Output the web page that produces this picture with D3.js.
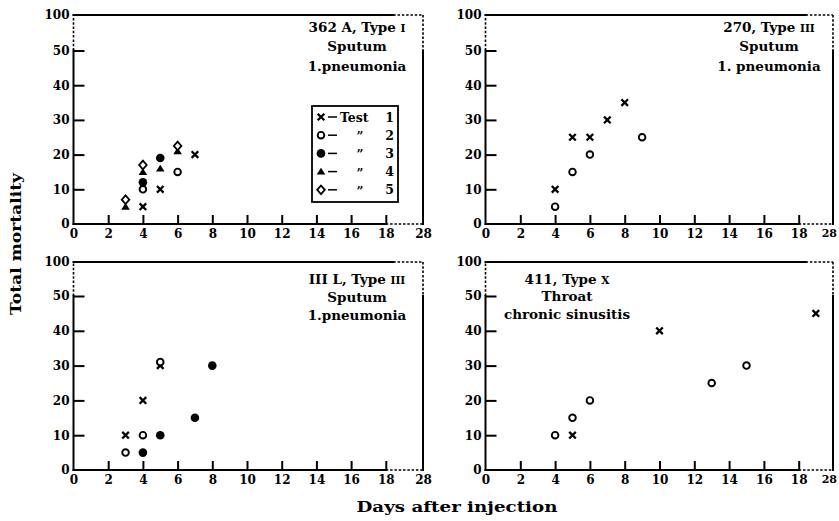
<!DOCTYPE html>
<html><head><meta charset="utf-8">
<script src="https://cdn.jsdelivr.net/npm/d3@7"></script>
<style>
body{margin:0;background:#fff;}
svg text{font-family:"DejaVu Serif",serif;font-weight:bold;fill:#000;}
</style></head>
<body><svg id="c" width="839" height="521"></svg>
<script>
// ---- data ----
const yTicks = [0,10,20,30,40,50,100];
const xTicks = [0,2,4,6,8,10,12,14,16,18,28];
const testNames = ["Test 1","2","3","4","5"];
const markers = ["cross","circle","dot","triangle","diamond"];

// Panel A: 362 A, Type I
const a_test1 = [[4,5],[5,10],[7,20]];
const a_test2 = [[4,10],[6,15]];
const a_test3 = [[4,12],[5,19]];
const a_test4 = [[3,5],[4,15],[5,16],[6,21]];
const a_test5 = [[3,7],[4,17],[6,22.5]];
// Panel B: 270, Type III
const b_test1 = [[4,10],[5,25],[6,25],[7,30],[8,35]];
const b_test2 = [[4,5],[5,15],[6,20],[9,25]];
// Panel C: III L, Type III
const c_test1 = [[3,10],[4,20],[5,30]];
const c_test2 = [[3,5],[4,10],[5,31]];
const c_test3 = [[4,5],[5,10],[7,15],[8,30]];
// Panel D: 411, Type X
const d_test1 = [[5,10],[10,40],[23,45]];
const d_test2 = [[4,10],[5,15],[6,20],[13,25],[15,30]];

const panelA_title = ["362 A, Type I","Sputum","1.pneumonia"];
const panelB_title = ["270,   Type III","Sputum","1. pneumonia"];
const panelC_title = ["III L,  Type III","Sputum","1.pneumonia"];
const panelD_title = ["411, Type X","Throat","chronic sinusitis"];

const svg = d3.select("#c");

const panels = [
  {x0:73.5,k:17.35,right:423,yb:224,yt:15,k10:34.7,series:[a_test1,a_test2,a_test3,a_test4,a_test5],
   title:panelA_title,tx:357,ty:[32,51,71],legend:true},
  {x0:485.5,k:17.4,right:833,yb:224,yt:15,k10:34.7,series:[b_test1,b_test2],
   title:panelB_title,tx:769,ty:[32,51,71],edge:true},
  {x0:73.5,k:17.35,right:423,yb:470,yt:262,k10:34.8,series:[c_test1,c_test2,c_test3],
   title:panelC_title,tx:357,ty:[284,302,320]},
  {x0:485.5,k:17.4,right:833,yb:470,yt:262,k10:34.8,series:[d_test1,d_test2],
   title:panelD_title,tx:567,ty:[284,301,319],edge:true}
];

function drawMarker(g, type, cx, cy){
  if(type==="cross"){
    const s=3.3;
    g.append("path").attr("d",`M${cx-s},${cy-s}L${cx+s},${cy+s}M${cx-s},${cy+s}L${cx+s},${cy-s}`)
     .attr("stroke","#000").attr("stroke-width",2.3).attr("fill","none");
  } else if(type==="circle"){
    g.append("circle").attr("cx",cx).attr("cy",cy).attr("r",3.3)
     .attr("stroke","#000").attr("stroke-width",1.9).attr("fill","#fff");
  } else if(type==="dot"){
    g.append("circle").attr("cx",cx).attr("cy",cy).attr("r",4.3).attr("fill","#000");
  } else if(type==="triangle"){
    g.append("path").attr("d",`M${cx},${cy-3.8}L${cx+4.3},${cy+3}L${cx-4.3},${cy+3}Z`).attr("fill","#000");
  } else if(type==="diamond"){
    g.append("path").attr("d",`M${cx},${cy-4.3}L${cx+3.8},${cy}L${cx},${cy+4.3}L${cx-3.8},${cy}Z`)
     .attr("stroke","#000").attr("stroke-width",1.8).attr("fill","#fff");
  }
}

panels.forEach(p=>{
  const x = d3.scaleLinear().domain([0,18,28]).range([p.x0,p.x0+18*p.k,p.right]);
  const y = d3.scaleLinear().domain([0,50,100]).range([p.yb,p.yb-5*p.k10,p.yt]);
  const g = svg.append("g");

  // axes
  const ya = g.append("g").attr("transform",`translate(${p.x0},0)`)
    .call(d3.axisLeft(y).tickValues(yTicks).tickSizeInner(-11).tickSizeOuter(0).tickPadding(4).tickFormat(d3.format("d")));
  ya.select(".domain").remove();
  ya.selectAll(".tick line").attr("stroke","#000").attr("stroke-width",2)
    .filter(d=>d===0||d===100).remove();
  ya.selectAll(".tick text").attr("font-size",12).attr("font-family","DejaVu Serif").attr("font-weight","bold");

  const xa = g.append("g").attr("transform",`translate(0,${p.yb})`)
    .call(d3.axisBottom(x).tickValues(xTicks).tickSizeInner(-9).tickSizeOuter(0).tickPadding(5).tickFormat(d3.format("d")));
  xa.select(".domain").remove();
  xa.selectAll(".tick line").attr("stroke","#000").attr("stroke-width",2)
    .filter(d=>d===0||d===28).remove();
  xa.selectAll(".tick text").attr("font-size",12).attr("font-family","DejaVu Serif").attr("font-weight","bold");
  if(p.edge){
    xa.selectAll(".tick text").filter(d=>d===28).attr("text-anchor","end").attr("x",3.5)
      .attr("font-size",11);
  }

  // frame
  const solid = (x1,y1,x2,y2)=>g.append("line").attr("x1",x1).attr("y1",y1).attr("x2",x2).attr("y2",y2)
      .attr("stroke","#000").attr("stroke-width",2).attr("stroke-linecap","square");
  const dash = (x1,y1,x2,y2)=>g.append("line").attr("x1",x1).attr("y1",y1).attr("x2",x2).attr("y2",y2)
      .attr("stroke","#000").attr("stroke-width",1.6).attr("stroke-dasharray","2.5,1.8");
  solid(x(0),y(0),x(0),y(50)); dash(x(0),y(50),x(0),y(100));
  solid(x(0),y(100),x(20),y(100)); dash(x(20),y(100),x(28),y(100));
  dash(x(28),y(100),x(28),y(50)); solid(x(28),y(50),x(28),y(0));
  solid(x(0),y(0),x(18),y(0)); dash(x(18),y(0),x(28),y(0));

  // title
  p.title.forEach((t,i)=>{
    const parts = t.match(/^(.*Type )(I+|X)$/);
    const te = g.append("text").attr("x",p.tx).attr("y",p.ty[i]).attr("text-anchor","middle").attr("font-size",13.5);
    if(parts){
      te.append("tspan").text(parts[1]);
      te.append("tspan").attr("font-size",10.5).text(parts[2]);
    } else te.text(t);
  });

  // series
  p.series.forEach((s,si)=>{
    s.forEach(d=>drawMarker(g,markers[si],x(d[0]),y(d[1])));
  });

  // legend
  if(p.legend){
    const lg = g.append("g");
    lg.append("rect").attr("x",312).attr("y",106).attr("width",86).attr("height",96)
      .attr("fill","none").attr("stroke","#000").attr("stroke-width",1.8);
    testNames.forEach((n,i)=>{
      const cy = 117 + i*18.2;
      drawMarker(lg, markers[i], 321, cy);
      lg.append("line").attr("x1",328).attr("x2",337).attr("y1",cy).attr("y2",cy).attr("stroke","#000").attr("stroke-width",1.5);
      if(i===0){
        lg.append("text").attr("x",340).attr("y",cy+4.5).attr("font-size",12.5).text("Test");
        lg.append("text").attr("x",394).attr("y",cy+4.5).attr("text-anchor","end").attr("font-size",12.5).text("1");
      } else {
        lg.append("text").attr("x",360).attr("y",cy+6).attr("text-anchor","middle").attr("font-size",12).text("\u201D");
        lg.append("text").attr("x",394).attr("y",cy+4.5).attr("text-anchor","end").attr("font-size",12.5).text(n);
      }
    });
  }
});

// axis titles
svg.append("text").attr("transform","translate(21,244) rotate(-90)").attr("text-anchor","middle")
  .attr("font-size",14).attr("textLength",142).attr("lengthAdjust","spacingAndGlyphs").text("Total mortality");
svg.append("text").attr("x",457).attr("y",512).attr("text-anchor","middle")
  .attr("font-size",15).attr("textLength",201).attr("lengthAdjust","spacingAndGlyphs").text("Days after injection");
</script></body></html>
